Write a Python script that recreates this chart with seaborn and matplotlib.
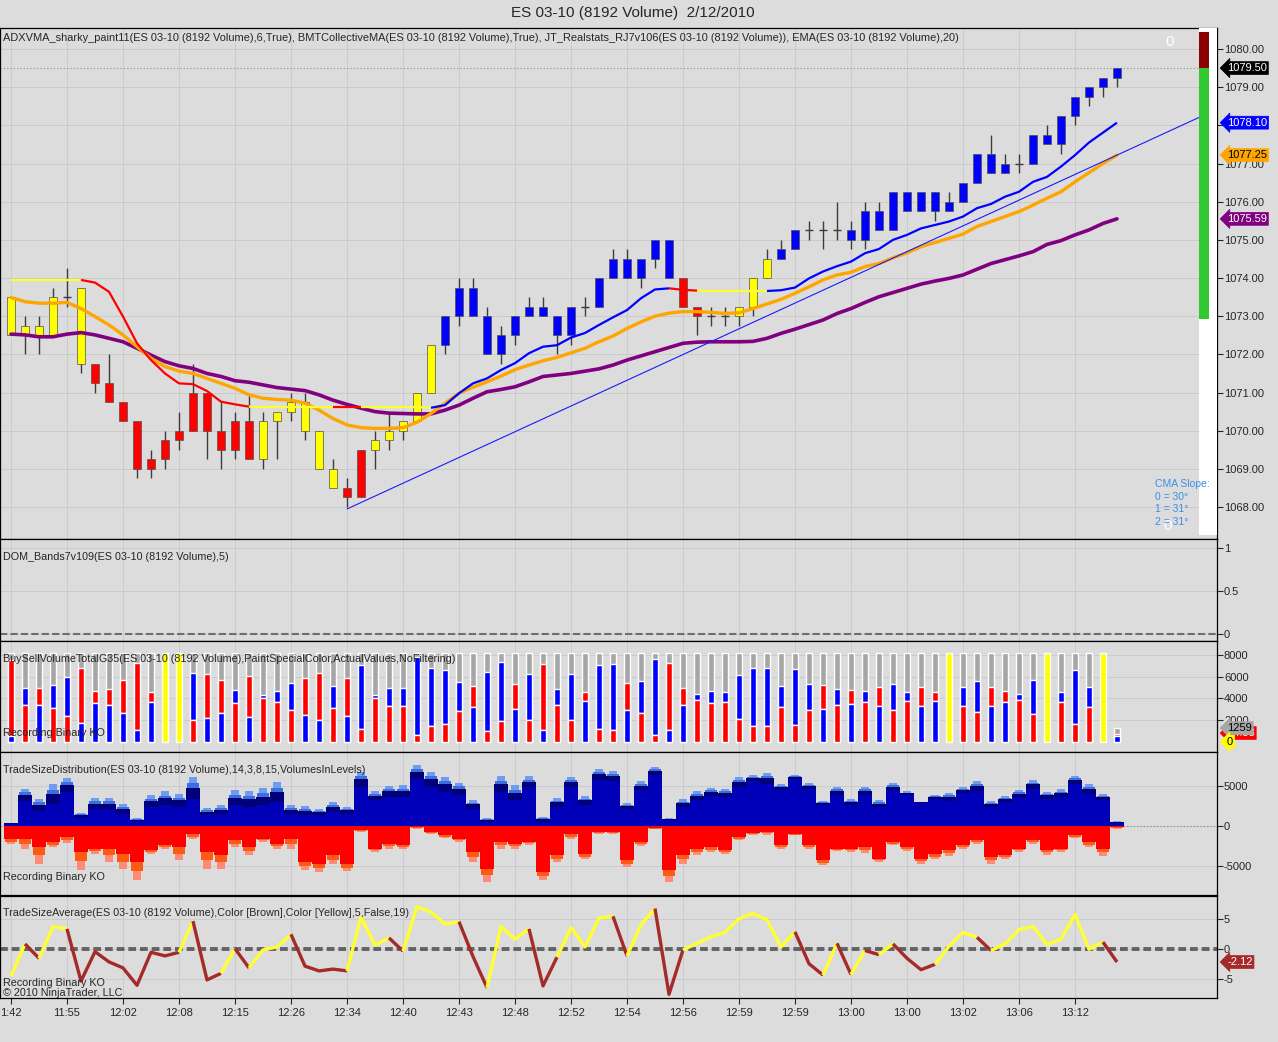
import numpy as np
import pandas as pd
import matplotlib
matplotlib.use("Agg")
import matplotlib.pyplot as plt
from matplotlib.patches import Rectangle
import seaborn as sns

# ---------------- price bars (ES 03-10, 8192 volume) ----------------
bar_open = [
    1072.5, 1072.5, 1072.5, 1072.5, 1073.5, 1073.75, 1071.75, 1071.25, 1070.75, 1070.25,
    1069.25, 1069.75, 1070.0, 1071.0, 1071.0, 1070.0, 1070.25, 1070.25, 1069.25, 1070.25,
    1070.5, 1070.75, 1070.0, 1069.0, 1068.5, 1069.5, 1069.5, 1069.75, 1070.0, 1070.25,
    1071.0, 1072.25, 1073.0, 1073.0, 1072.0, 1072.0, 1072.5, 1073.0, 1073.0, 1072.5,
    1072.5, 1073.25, 1073.25, 1074.0, 1074.0, 1074.0, 1074.5, 1074.0, 1074.0, 1073.25,
    1073.0, 1073.0, 1073.0, 1073.25, 1074.0, 1074.5, 1074.75, 1075.25, 1075.25, 1075.25,
    1075.0, 1075.0, 1075.25, 1075.25, 1075.75, 1075.75, 1075.75, 1075.75, 1076.0, 1076.5,
    1076.75, 1076.75, 1077.0, 1077.0, 1077.5, 1077.5, 1078.25, 1078.75, 1079.0, 1079.25]
bar_high = [
    1073.5, 1073.0, 1073.0, 1073.75, 1074.25, 1073.75, 1071.75, 1072.0, 1070.75, 1070.25,
    1069.5, 1070.0, 1070.5, 1071.75, 1071.0, 1070.75, 1070.5, 1071.0, 1070.5, 1070.5,
    1071.0, 1071.0, 1070.0, 1069.25, 1068.75, 1069.5, 1070.0, 1070.5, 1070.25, 1071.0,
    1072.25, 1073.0, 1074.0, 1074.0, 1073.25, 1072.75, 1073.0, 1073.5, 1073.5, 1073.0,
    1073.25, 1073.5, 1074.0, 1074.75, 1074.75, 1074.5, 1075.0, 1075.0, 1074.0, 1073.25,
    1073.25, 1073.25, 1073.25, 1074.0, 1074.75, 1075.0, 1075.25, 1075.5, 1075.5, 1076.0,
    1075.5, 1076.0, 1076.0, 1076.25, 1076.25, 1076.25, 1076.25, 1076.25, 1076.5, 1077.25,
    1077.75, 1077.25, 1077.25, 1077.75, 1078.0, 1078.25, 1078.75, 1079.0, 1079.25, 1079.5]
bar_low = [
    1072.5, 1072.0, 1072.0, 1072.5, 1073.25, 1071.5, 1071.0, 1070.75, 1070.25, 1068.75,
    1068.75, 1069.0, 1069.5, 1070.0, 1069.25, 1069.0, 1069.25, 1069.25, 1069.0, 1069.25,
    1070.25, 1069.75, 1069.0, 1068.5, 1068.0, 1068.25, 1069.0, 1069.5, 1069.75, 1070.25,
    1071.0, 1072.0, 1072.75, 1073.0, 1072.0, 1071.75, 1072.25, 1073.0, 1073.0, 1072.0,
    1072.25, 1073.0, 1073.25, 1074.0, 1074.0, 1073.75, 1074.25, 1074.0, 1073.25, 1072.5,
    1072.75, 1072.75, 1072.75, 1073.0, 1074.0, 1074.5, 1074.75, 1075.0, 1074.75, 1075.0,
    1074.75, 1074.75, 1075.25, 1075.25, 1075.75, 1075.75, 1075.5, 1075.75, 1076.0, 1076.5,
    1076.75, 1076.75, 1076.75, 1077.0, 1077.5, 1077.25, 1078.0, 1078.5, 1078.75, 1079.0]
bar_close = [
    1073.5, 1072.75, 1072.75, 1073.5, 1073.5, 1071.75, 1071.25, 1070.75, 1070.25, 1069.0,
    1069.0, 1069.25, 1069.75, 1070.0, 1070.0, 1069.5, 1069.5, 1069.25, 1070.25, 1070.5,
    1070.75, 1070.0, 1069.0, 1068.5, 1068.25, 1068.25, 1069.75, 1070.0, 1070.25, 1071.0,
    1072.25, 1073.0, 1073.75, 1073.75, 1073.0, 1072.5, 1073.0, 1073.25, 1073.25, 1073.0,
    1073.25, 1073.25, 1074.0, 1074.5, 1074.5, 1074.5, 1075.0, 1075.0, 1073.25, 1073.0,
    1073.0, 1073.0, 1073.25, 1074.0, 1074.5, 1074.75, 1075.25, 1075.25, 1075.25, 1075.25,
    1075.25, 1075.75, 1075.75, 1076.25, 1076.25, 1076.25, 1076.25, 1076.0, 1076.5, 1077.25,
    1077.25, 1077.0, 1077.0, 1077.75, 1077.75, 1078.25, 1078.75, 1079.0, 1079.25, 1079.5]
# sharky paint: Y yellow, R red, B blue, D doji
bar_paint = ("YYYYDY" "RRRRRRRRRRRR" "YYYYYY" "RR" "YYYYY" "BBBBBBBBBB" "D" "BBBBBB"
             "RR" "DD" "YYY" "BB" "DDD" "BBBBBBBBBBBB" "D" "BBBBBBB")

# ADXVMA line and its colour per segment (segment ending at bar k)
adxvma = [
    1073.95, 1073.95, 1073.95, 1073.95, 1073.95, 1073.95, 1073.88, 1073.64, 1072.99, 1072.29,
    1071.85, 1071.50, 1071.24, 1071.22, 1071.04, 1070.76, 1070.69, 1070.63, 1070.62, 1070.62,
    1070.62, 1070.62, 1070.62, 1070.62, 1070.62, 1070.62, 1070.62, 1070.62, 1070.62, 1070.62,
    1070.60, 1070.67, 1070.98, 1071.24, 1071.37, 1071.59, 1071.77, 1072.03, 1072.20, 1072.24,
    1072.44, 1072.56, 1072.77, 1072.97, 1073.16, 1073.47, 1073.70, 1073.73, 1073.69, 1073.67,
    1073.66, 1073.66, 1073.66, 1073.66, 1073.66, 1073.68, 1073.75, 1073.99, 1074.17, 1074.31,
    1074.43, 1074.65, 1074.76, 1075.00, 1075.13, 1075.30, 1075.39, 1075.48, 1075.61, 1075.83,
    1075.94, 1076.13, 1076.26, 1076.52, 1076.65, 1076.92, 1077.22, 1077.55, 1077.81, 1078.07]
adx_seg = ("-yyyyy" "rrrrrrrrrrrr" "yyyyyy" "rr" "yyyyy" "bbbbbbbbbbbbbbbbb" "rr" "yyyyy"
           "bbbbbbbbbbbbbbbbbbbbbbbbb")
ema20 = [
    1073.49, 1073.38, 1073.34, 1073.34, 1073.36, 1073.20, 1072.99, 1072.77, 1072.51, 1072.20,
    1071.90, 1071.68, 1071.56, 1071.50, 1071.37, 1071.24, 1071.11, 1070.94, 1070.85, 1070.82,
    1070.80, 1070.72, 1070.54, 1070.32, 1070.15, 1070.08, 1070.06, 1070.06, 1070.08, 1070.22,
    1070.45, 1070.72, 1070.98, 1071.14, 1071.28, 1071.43, 1071.60, 1071.72, 1071.83, 1071.92,
    1072.04, 1072.16, 1072.33, 1072.48, 1072.68, 1072.85, 1073.00, 1073.08, 1073.12, 1073.12,
    1073.10, 1073.07, 1073.09, 1073.20, 1073.32, 1073.44, 1073.60, 1073.77, 1073.95, 1074.08,
    1074.15, 1074.30, 1074.38, 1074.53, 1074.66, 1074.82, 1074.93, 1075.04, 1075.15, 1075.35,
    1075.48, 1075.61, 1075.74, 1075.91, 1076.09, 1076.26, 1076.52, 1076.76, 1077.00, 1077.22]
cma = [
    1072.53, 1072.51, 1072.46, 1072.46, 1072.53, 1072.57, 1072.51, 1072.42, 1072.33, 1072.16,
    1071.98, 1071.81, 1071.70, 1071.63, 1071.50, 1071.42, 1071.31, 1071.27, 1071.20, 1071.13,
    1071.09, 1071.05, 1070.94, 1070.80, 1070.69, 1070.59, 1070.50, 1070.46, 1070.45, 1070.44,
    1070.44, 1070.54, 1070.67, 1070.85, 1071.02, 1071.08, 1071.15, 1071.28, 1071.42, 1071.46,
    1071.50, 1071.56, 1071.62, 1071.72, 1071.85, 1071.96, 1072.07, 1072.18, 1072.29, 1072.32,
    1072.33, 1072.33, 1072.33, 1072.34, 1072.42, 1072.55, 1072.66, 1072.78, 1072.90, 1073.07,
    1073.20, 1073.36, 1073.51, 1073.62, 1073.73, 1073.84, 1073.92, 1073.99, 1074.08, 1074.23,
    1074.38, 1074.48, 1074.58, 1074.69, 1074.88, 1074.98, 1075.13, 1075.26, 1075.43, 1075.55]
trend_x = [24, 79]
trend_y = [1067.95, 1077.22]
last_price = 1079.50
jt_top, jt_low = 1080.45, 1072.93

# ---------------- BuySellVolume ----------------
bar_volume = 8192
last_bar_volume = 1259
bs_lower_col = ("brbrrbbbbb" "byyrbbrbrr" "rbbrbrrrrr" "rrrbrrbrbr"
                "rbrrbrrbbr" "rrrrrrrrbr" "brbrrbbyrr" "bbrryrrryb")
bs_lower = [
    500, 3400, 3400, 3100, 2330, 1700, 3600, 3400, 2640, 1100,
    3700, 0, 0, 1960, 2180, 2640, 3560, 2240, 4000, 3620,
    2880, 2480, 2020, 3100, 2390, 1200, 4000, 3310, 3310, 580,
    1470, 1660, 2790, 3160, 950, 1870, 3000, 2020, 1100, 3400,
    2020, 3770, 1200, 1100, 2880, 2640, 640, 1040, 3340, 3870,
    3560, 3680, 2120, 1470, 1470, 3160, 1560, 2940, 3040, 3400,
    3500, 3620, 3250, 2940, 3800, 3250, 3800, 0, 3250, 2700,
    3250, 3620, 3870, 2580, 0, 3700, 1660, 3190, 0, 550]
bs_upper = [
    7550, 4940, 4940, 5250, 6000, 6780, 4720, 4880, 5700, 7300,
    4630, 0, 0, 6380, 6230, 5700, 4790, 6100, 4330, 4720,
    5460, 5860, 6320, 5180, 5920, 7090, 4330, 5000, 5000, 7850,
    6840, 6630, 5550, 5180, 6470, 7390, 5300, 6260, 7180, 4880,
    6260, 4540, 7090, 7180, 5460, 5610, 7640, 7300, 4940, 4420,
    4690, 4600, 6170, 6780, 6780, 5150, 6690, 5340, 5250, 4880,
    4790, 4720, 5090, 5340, 4540, 5090, 4540, 0, 5090, 5610,
    5090, 4720, 4420, 5700, 0, 4630, 6630, 5090, 0, 740]

# ---------------- TradeSizeDistribution ----------------
tsd_buy_top = [
    420, 4670, 3420, 5210, 6000, 1630, 3540, 3540, 2790, 1000,
    3830, 4330, 4040, 6130, 2250, 2580, 4460, 4330, 4750, 5500,
    2580, 2460, 2170, 3000, 2380, 6750, 4330, 5000, 5080, 7580,
    6750, 6130, 5420, 3210, 1000, 6210, 5080, 6210, 1130, 3500,
    6130, 3750, 7170, 6880, 2880, 5580, 7380, 1000, 3330, 4330,
    4750, 4670, 6130, 6330, 6630, 5210, 6330, 5380, 3080, 4880,
    3330, 4880, 3210, 5380, 4330, 3000, 3920, 4170, 4880, 5630,
    3080, 3750, 4460, 5710, 4250, 4580, 6250, 5210, 4040, 580]
tsd_buy_base = [
    250, 3080, 1830, 2790, 4250, 1040, 2080, 2080, 1540, 580,
    2380, 2580, 2380, 3420, 1330, 1540, 2580, 2380, 2580, 3000,
    1540, 1330, 1330, 1750, 1540, 4880, 3210, 3630, 3630, 5920,
    4880, 4250, 3830, 2170, 500, 4250, 3210, 4880, 500, 2380,
    4880, 2670, 5710, 5580, 2080, 4460, 6330, 790, 2380, 3210,
    3750, 3630, 4880, 5580, 5290, 4460, 5920, 4670, 2670, 3830,
    2580, 3830, 2380, 4460, 3830, 2920, 3420, 3080, 4170, 4330,
    2380, 3000, 3630, 4670, 3420, 3630, 5290, 4040, 3210, 420]
tsd_sell_base = [
    1670, 1670, 2630, 2000, 1380, 3250, 2830, 2830, 3460, 4500,
    3040, 2420, 2630, 960, 3250, 3670, 1790, 2630, 1580, 2210,
    1580, 4500, 4710, 3670, 4710, 540, 2830, 2210, 2420, 130,
    750, 1170, 1580, 3250, 5330, 2000, 2210, 2000, 5750, 3670,
    960, 3460, 750, 750, 4290, 2000, 250, 5540, 3580, 2830,
    2630, 3040, 1380, 880, 750, 2330, 960, 2330, 4290, 2830,
    2830, 2630, 4080, 2000, 2630, 4080, 3460, 3040, 2420, 1790,
    3880, 3580, 2830, 1790, 3040, 2830, 1170, 2000, 2830, 130]
tsd_sell_bot = [
    2210, 2830, 4710, 2630, 2080, 5540, 3460, 4500, 5420, 6790,
    3460, 2830, 4290, 1670, 5330, 5330, 2630, 3670, 2000, 2830,
    2830, 5540, 5750, 4710, 5670, 750, 3250, 2830, 2920, 330,
    960, 1500, 2000, 4500, 7000, 2830, 2830, 2330, 6790, 4500,
    1670, 4170, 960, 960, 5130, 2500, 420, 7000, 4710, 3670,
    3250, 3460, 1790, 1170, 1080, 2830, 1170, 2830, 4920, 3170,
    3250, 3330, 4500, 2420, 3170, 4710, 4170, 3750, 2920, 2210,
    4710, 4170, 3250, 2210, 3580, 3250, 1500, 2630, 3750, 420]

# ---------------- TradeSizeAverage ----------------
tsa = [
    -4.5, 0.9, -1.5, 3.8, 3.4, -5.3, -0.4, -2.1, -3.1, -6.0,
    -0.5, -1.1, -0.5, 4.7, -5.1, -4.0, 0.1, -3.1, -0.1, 0.4,
    2.5, -2.8, -3.6, -3.3, -3.6, 5.4, 0.7, 1.9, -0.3, 7.1,
    6.2, 4.2, 4.6, -1.2, -6.4, 3.8, 1.7, 3.4, -6.1, -1.3,
    3.6, 0.4, 5.2, 5.5, -1.1, 4.1, 6.8, -7.5, -0.1, 1.0,
    2.1, 2.8, 5.1, 6.0, 4.9, 0.4, 2.9, -2.4, -4.3, 1.0,
    -4.2, -0.2, -0.9, 0.9, -1.5, -3.4, -2.5, 0.5, 2.8, 2.0,
    -0.2, 0.9, 3.3, 3.8, 0.8, 1.7, 5.8, 0.0, 1.2, -2.12]
tsa_seg = ("-" "ybyybbbbbb" "bbybbybyyy" "bbbbyyybyy" "yybbyyybby"
           "yyybyybbyy" "yyyyyybbyb" "ybybbbyyyb" "yyyyyyyyb")

time_labels = ["1:42", "11:55", "12:02", "12:08", "12:15", "12:26", "12:34", "12:40",
               "12:43", "12:48", "12:52", "12:54", "12:56", "12:59", "12:59", "13:00",
               "13:00", "13:02", "13:06", "13:12"]

assert len(bar_paint) == 80 and len(adx_seg) == 80 and len(tsa_seg) == 80
assert len(bs_lower_col) == 80

# ---------------- layout ----------------
sns.set_style("ticks")
plt.rcParams["font.family"] = ["Liberation Sans", "DejaVu Sans"]

BG = "#dcdcdc"
W, H = 1278, 1042
AX_R = 1217
FS = 8
HFS = 7.75
fig = plt.figure(figsize=(W / 100, H / 100), dpi=100)
fig.patch.set_facecolor(BG)

xs = np.arange(len(bar_open))
XL = (-11 / 14, (AX_R - 11) / 14)
XT = np.arange(0, 80, 4)


def panel(top, bot, ylim, yticks, ylabels):
    ax = fig.add_axes([0, 1 - bot / H, AX_R / W, (bot - top) / H])
    ax.set_facecolor(BG)
    ax.set_xlim(*XL)
    ax.set_ylim(*ylim)
    ax.set_xticks(XT)
    ax.set_xticklabels([])
    ax.tick_params(axis="x", length=0)
    ax.yaxis.tick_right()
    ax.set_yticks(yticks)
    ax.set_yticklabels(ylabels)
    ax.tick_params(axis="y", direction="out", length=4, width=0.8, labelsize=FS, pad=1)
    ax.grid(True, color="#cbcbcb", lw=0.7)
    ax.set_axisbelow(True)
    for s in ax.spines.values():
        s.set_visible(True)
        s.set_color("black")
        s.set_linewidth(0.9)
    ax.set_xlabel("")
    ax.set_ylabel("")
    return ax


def ftxt(x, y, s, **kw):
    kw.setdefault("fontsize", HFS)
    kw.setdefault("va", "center")
    fig.text(x / W, 1 - y / H, s, **kw)


def tag(ax, y, s, fc, tc):
    ax.text(1227 / AX_R, y, s, transform=ax.get_yaxis_transform(), ha="left", va="center",
            fontsize=FS, color=tc, clip_on=False, zorder=20,
            bbox=dict(boxstyle="larrow,pad=0.13", fc=fc, ec=fc, lw=0.5))


def runs(ax, x, y, seg, colors, lw, z):
    start = 0
    n = len(x)
    for k in range(1, n):
        if k == n - 1 or seg[k + 1] != seg[k]:
            ax.plot(x[start:k + 1], y[start:k + 1], color=colors[seg[k]], lw=lw,
                    solid_capstyle="butt", zorder=z)
            start = k


# ---- price panel ----
def price_y(px):
    return 1080 - (px - 49) / 38.17


axp = panel(28, 539, (price_y(539), price_y(28)), np.arange(1068, 1081),
            ["%.2f" % v for v in np.arange(1068, 1081)])

paint = {"Y": "#ffff00", "R": "#ff0000", "B": "#0000ff"}
o = np.array(bar_open); c = np.array(bar_close)
hi = np.array(bar_high); lo = np.array(bar_low)
axp.vlines(xs, lo, hi, color="#3c3c3c", lw=1.0, zorder=2)
for k in xs:
    p = bar_paint[k]
    if p == "D":
        axp.hlines(o[k], k - 0.3, k + 0.3, color="#3c3c3c", lw=1.0, zorder=3)
    else:
        b0, b1 = min(o[k], c[k]), max(o[k], c[k])
        axp.bar(k, b1 - b0, bottom=b0, width=0.6, color=paint[p], edgecolor="#505050",
                lw=0.5, zorder=3)

df_ma = pd.DataFrame({"bar": xs, "cma": cma, "ema": ema20})
sns.lineplot(data=df_ma, x="bar", y="cma", ax=axp, color="#800080", lw=2.6, sort=False, zorder=5)
sns.lineplot(data=df_ma, x="bar", y="ema", ax=axp, color="#ffa500", lw=2.4, sort=False, zorder=6)
runs(axp, xs, np.array(adxvma), adx_seg, {"y": "#ffff30", "r": "#ff0000", "b": "#0000ff"}, 1.6, 7)
slope = (trend_y[1] - trend_y[0]) / (trend_x[1] - trend_x[0])
tx = np.array([trend_x[0], XL[1]])
axp.plot(tx, trend_y[0] + slope * (tx - trend_x[0]), color="#1a1aff", lw=0.8, zorder=8)
axp.axhline(last_price, color="#8c8c8c", lw=0.8, ls=(0, (1, 2)), zorder=1)
axp.set_xlabel(""); axp.set_ylabel("")

tr = axp.get_yaxis_transform()
axp.add_patch(Rectangle((1199 / AX_R, price_y(535)), 18 / AX_R, price_y(28) - price_y(535),
                        transform=tr, fc="white", ec="none", zorder=9))
axp.add_patch(Rectangle((1199 / AX_R, last_price), 10 / AX_R, jt_top - last_price,
                        transform=tr, fc="#8b0000", ec="none", zorder=10))
axp.add_patch(Rectangle((1199 / AX_R, jt_low), 10 / AX_R, last_price - jt_low,
                        transform=tr, fc="#32c832", ec="none", zorder=10))

tag(axp, last_price, "%.2f" % last_price, "black", "white")
tag(axp, adxvma[-1], "1078.10", "#0000ff", "white")
tag(axp, ema20[-1], "1077.25", "#ffa500", "black")
tag(axp, cma[-1], "1075.59", "#800080", "white")

ftxt(633, 13, "ES 03-10 (8192 Volume)  2/12/2010", ha="center", fontsize=11)
ftxt(3, 38, "ADXVMA_sharky_paint11(ES 03-10 (8192 Volume),6,True), BMTCollectiveMA(ES 03-10 "
     "(8192 Volume),True), JT_Realstats_RJ7v106(ES 03-10 (8192 Volume)), EMA(ES 03-10 "
     "(8192 Volume),20)", fontsize=7.9)
ftxt(1170, 42, "0", color="white", fontsize=11, ha="center")
ftxt(1168, 526, "0", color="white", fontsize=11, ha="center")
for i, s in enumerate(["CMA Slope:", "0 = 30\u00b0", "1 = 31\u00b0", "2 = 31\u00b0"]):
    ftxt(1155, 484 + 12.7 * i, s, color="#3a8ee6", fontsize=7.5)

# ---- DOM bands panel ----
axd = panel(539, 641, (-(641 - 634) / 85.7, 1 + (548.3 - 539) / 85.7), [0, 0.5, 1],
            ["0", "0.5", "1"])
axd.axhline(0, color="#6e6e6e", lw=1.5, dashes=(3.5, 1.5))
ftxt(3, 557, "DOM_Bands7v109(ES 03-10 (8192 Volume),5)")

# ---- BuySellVolume panel ----
bsz = 741.7
bsk = 10.84 / 1000
axb = panel(641, 752, (-(752 - bsz) / bsk, (bsz - 641) / bsk), [2000, 4000, 6000, 8000],
            ["2000", "4000", "6000", "8000"])
totals = np.full(len(xs), bar_volume)
totals[-1] = last_bar_volume
colb = {"r": "#ff0000", "b": "#0000ff"}
for k in xs:
    lc = bs_lower_col[k]
    if lc == "y":
        axb.bar(k, totals[k], width=0.42, color="#ffff00", zorder=2)
        continue
    uc = "b" if lc == "r" else "r"
    axb.bar(k, totals[k], width=0.42, color="#a6a6a6", zorder=2)
    axb.bar(k, bs_upper[k] - bs_lower[k], bottom=bs_lower[k], width=0.42, color=colb[uc], zorder=3)
    axb.bar(k, bs_lower[k], width=0.42, color=colb[lc], zorder=3)
tag(axb, 800, "24.53", "#ff0000", "white")
tag(axb, last_bar_volume, str(last_bar_volume), "#a6a6a6", "black")
tag(axb, 0, "0", "#ffff00", "black")
ftxt(3, 659, "BuySellVolumeTotalG35(ES 03-10 (8192 Volume),PaintSpecialColor,ActualValues,NoFiltering)")
ftxt(3, 733, "Recording Binary KO")

# ---- TradeSizeDistribution panel ----
axt = panel(752, 895, (-(895 - 826) / 8 * 1000, (826 - 752) / 8 * 1000), [-5000, 0, 5000],
            ["-5000", "0", "5000"])
axt.axhline(0, color="#808080", lw=0.8, ls=(0, (1, 2)), zorder=1)
bt = np.array(tsd_buy_top); bb = np.array(tsd_buy_base)
st = np.array(tsd_sell_base); sb = np.array(tsd_sell_bot)
gap = bt - bb
axt.bar(xs, bb, width=1.0, color="#0000b8", lw=0, zorder=2)
axt.bar(xs, gap * 0.5, bottom=bb, width=1.0, color="#000078", lw=0, zorder=2)
axt.bar(xs, gap * 0.2, bottom=bb + gap * 0.5, width=0.8, color="#3c6ee0", lw=0, zorder=2)
axt.bar(xs, gap * 0.3, bottom=bb + gap * 0.7, width=0.64, color="#6f9cf0", lw=0, zorder=2)
sgap = sb - st
axt.bar(xs, -st, width=1.0, color="#ff0000", lw=0, zorder=2)
axt.bar(xs, -sgap * 0.5, bottom=-st, width=0.82, color="#ff5a14", lw=0, zorder=2)
axt.bar(xs, -sgap * 0.5, bottom=-st - sgap * 0.5, width=0.64, color="#ff8a76", lw=0, zorder=2)
ftxt(3, 770, "TradeSizeDistribution(ES 03-10 (8192 Volume),14,3,8,15,VolumesInLevels)")
ftxt(3, 877, "Recording Binary KO")

# ---- TradeSizeAverage panel ----
axa = panel(896, 998, (-(998 - 949.3) / 6.0, (949.3 - 896) / 6.0), [-5, 0, 5], ["-5", "0", "5"])
axa.axhline(0, color="#636363", lw=2.8, dashes=(2.0, 1.0), zorder=1)
runs(axa, xs, np.array(tsa), tsa_seg, {"y": "#ffff33", "b": "#a52a2a"}, 2.4, 3)
tag(axa, tsa[-1], "%.2f" % tsa[-1], "#a52a2a", "white")
axa.set_xticks(XT)
axa.set_xticklabels(time_labels)
axa.tick_params(axis="x", direction="out", length=4, width=0.8, labelsize=FS, pad=3)
ftxt(3, 913, "TradeSizeAverage(ES 03-10 (8192 Volume),Color [Brown],Color [Yellow],5,False,19)")
ftxt(3, 983, "Recording Binary KO")
ftxt(3, 993, "\u00a9 2010 NinjaTrader, LLC")

fig.savefig("out.png", dpi=100, facecolor=BG)
